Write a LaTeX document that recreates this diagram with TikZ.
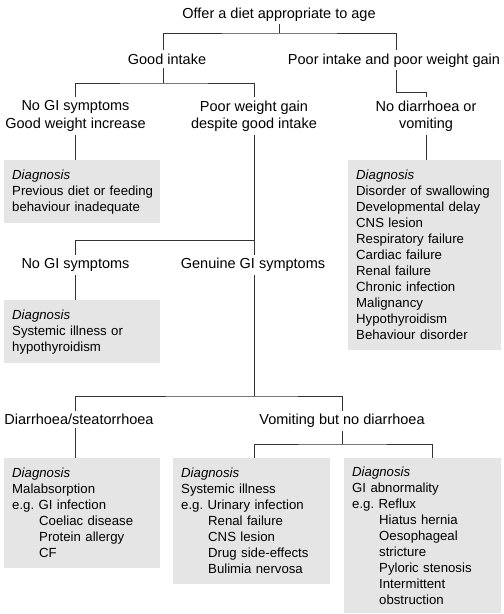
\documentclass[tikz,border=0pt]{standalone}
\usepackage{fontspec}
\setmainfont{Liberation Sans}
\definecolor{diaggray}{gray}{0.9}
\tikzset{
  lbl/.style={font=\fontsize{14.5}{17.5}\selectfont, align=center, inner sep=3pt},
  diag/.style={anchor=north west, fill=diaggray, align=left, inner xsep=8pt, inner ysep=2pt,
    font=\fontsize{13.2}{16}\selectfont},
  link/.style={draw=black!80, line width=0.8pt}
}
\newcommand{\egind}{\hspace*{27pt}}

\begin{document}
\begin{tikzpicture}[x=1pt,y=-1pt]
    \useasboundingbox (0,0) rectangle (504,614);

    % tree labels
    \node[lbl, anchor=base] (offer) at (279,18.2) {Offer a diet appropriate to age};
    \node[lbl, anchor=base] (good) at (167,64.2) {Good intake};
    \node[lbl, anchor=base] (poor) at (394,64.2) {Poor intake and poor weight gain};
    \node[lbl] (nogi) at (75.5,116) {No GI symptoms\\Good weight increase};
    \node[lbl] (pwg) at (254,116) {Poor weight gain\\despite good intake};
    \node[lbl] (nodv) at (426,116) {No diarrhoea or\\vomiting};
    \node[lbl, anchor=base] (nogitwo) at (75.5,268.3) {No GI symptoms};
    \node[lbl, anchor=base] (genuine) at (253,268.3) {Genuine GI symptoms};
    \node[lbl, anchor=base] (diarr) at (79,424.5) {Diarrhoea/steatorrhoea};
    \node[lbl, anchor=base] (vomit) at (342,424.5) {Vomiting but no diarrhoea};

    % diagnosis boxes
    \node[diag, text width=140pt, minimum height=63pt] (dxa) at (4,160)
      {\textit{Diagnosis}\\\mbox{Previous diet or feeding}\\behaviour inadequate};
    \node[diag, text width=137pt, minimum height=190pt] (dxr) at (348,160)
      {\textit{Diagnosis}\\Disorder of swallowing\\Developmental delay\\CNS lesion\\
       Respiratory failure\\Cardiac failure\\Renal failure\\Chronic infection\\
       Malignancy\\Hypothyroidism\\Behaviour disorder};
    \node[diag, text width=140pt, minimum height=63pt] (dxb) at (4,300)
      {\textit{Diagnosis}\\Systemic illness or\\hypothyroidism};
    \node[diag, text width=140pt, minimum height=110pt] (dxc) at (4,458)
      {\textit{Diagnosis}\\Malabsorption\\e.g.\ GI infection\\\egind Coeliac disease\\
       \egind Protein allergy\\\egind CF};
    \node[diag, text width=141pt, minimum height=126pt] (dxd) at (173,458)
      {\textit{Diagnosis}\\Systemic illness\\e.g.\ Urinary infection\\\egind Renal failure\\
       \egind CNS lesion\\\egind Drug side-effects\\\egind Bulimia nervosa};
    \node[diag, text width=141pt, minimum height=155pt] (dxe) at (344,458)
      {\textit{Diagnosis}\\GI abnormality\\e.g.\ Reflux\\\egind Hiatus hernia\\
       \egind Oesophageal\\\egind stricture\\\egind Pyloric stenosis\\
       \egind Intermittent\\\egind obstruction};

    % junctions
    \coordinate (j1) at (279,33);
    \coordinate (j2) at (163,83);
    \coordinate (j3) at (396,92);
    \coordinate (j4) at (254,240.5);
    \coordinate (j5) at (254,396);
    \coordinate (j6) at (342,444);

    % connectors
    \draw[link] (offer.south) -- (j1);
    \draw[link] ([xshift=-4pt]good.north) |- (j1) -| ([xshift=2pt]poor.north);
    \draw[link] ([xshift=-4pt]good.south) -- (j2);
    \draw[link] (nogi.north) |- (j2) -| (pwg.north);
    \draw[link] ([xshift=2pt]poor.south) -- (j3) -| (nodv.north);
    \draw[link] (nogi.south) -- (nogi.south |- dxa.north);
    \draw[link] (nodv.south) -- (nodv.south |- dxr.north);
    \draw[link] (pwg.south) -- (pwg.south |- genuine.north);
    \draw[link] (nogitwo.north) |- (j4);
    \draw[link] (nogitwo.south) -- (nogitwo.south |- dxb.north);
    \draw[link] (pwg.south |- genuine.south) -- (j5);
    \draw[link] (nogitwo |- diarr.north) |- (j5) -| (vomit.north);
    \draw[link] (nogitwo |- diarr.south) -- (nogitwo |- dxc.north);
    \draw[link] (vomit.south) -- (j6);
    \draw[link] (pwg |- dxd.north) |- (j6) -| ([xshift=9.5pt]dxe.north);

\end{tikzpicture}
\end{document}
